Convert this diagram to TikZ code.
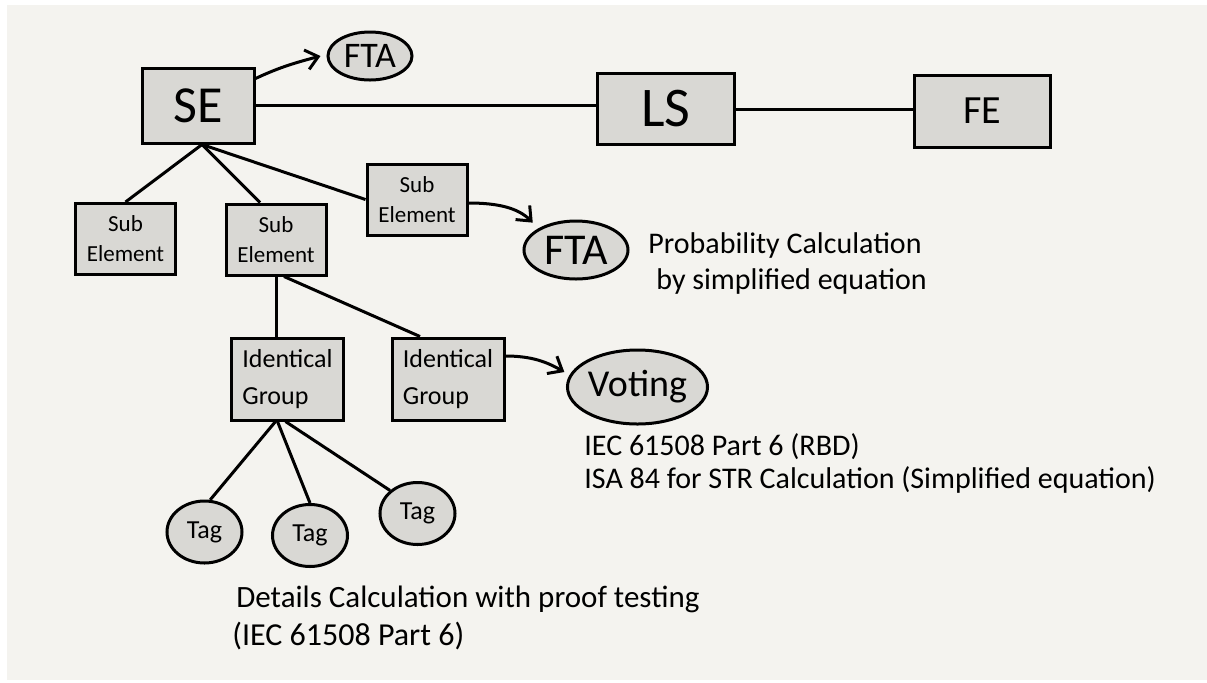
\documentclass[tikz,border=0pt]{standalone}
\usepackage{fontspec}
\setmainfont{Carlito}
\usetikzlibrary{shapes.geometric,arrows.meta}
\definecolor{paper}{HTML}{F4F3EF}
\definecolor{boxgray}{HTML}{D9D8D4}
\begin{document}
\begin{tikzpicture}[x=0.5pt, y=-0.5pt, >={Straight Barb[length=6pt,width=10pt]},
  box/.style={draw, line width=1.5pt, fill=boxgray, inner sep=0pt},
  bubble/.style={ellipse, draw, line width=1.5pt, fill=boxgray, inner sep=0pt},
  sub/.style={box, minimum width=50pt, minimum height=35.5pt, align=center, font=\fontsize{11.5}{15}\selectfont},
  group/.style={box, minimum width=56pt, minimum height=41pt, align=left, font=\fontsize{13}{18.5}\selectfont},
  tag/.style={bubble, minimum width=37.5pt, minimum height=31pt, font=\fontsize{13}{15}\selectfont},
  link/.style={line width=1.5pt},
  flow/.style={line width=1.5pt, ->},
  note/.style={anchor=base west, inner sep=0pt, font=\fontsize{15}{18}\selectfont}]
  \fill[white] (0,0) rectangle (1207,682);
  \fill[paper] (7,5) rectangle (1207,680);
  % top row
  \node[box, minimum width=56pt, minimum height=37.5pt, font=\fontsize{26}{30}\selectfont] (se) at (198,105.5) {SE};
  \node[bubble, minimum width=42pt, minimum height=24pt, font=\fontsize{18}{22}\selectfont] (fta) at (370,56) {FTA};
  \node[box, minimum width=68.5pt, minimum height=35.5pt, font=\fontsize{28}{32}\selectfont] (ls) at (666,109) {LS};
  \node[box, minimum width=68pt, minimum height=36pt, font=\fontsize{20}{24}\selectfont] (fe) at (982,111) {FE};
  % sub elements
  \node[sub] (sub1) at (125.5,239) {Sub\\Element};
  \node[sub] (sub2) at (276,239.5) {Sub\\Element};
  \node[sub] (sub3) at (417,199.5) {Sub\\Element};
  \node[bubble, minimum width=52pt, minimum height=29pt, font=\fontsize{22}{26}\selectfont] (fta2) at (576,250) {FTA};
  \node[note] (prob1) at (648,253) {Probability Calculation};
  \node[note] (prob2) at (656,289) {by simplified equation};
  % identical groups
  \node[group] (grp1) at (287.5,379) {Identical\\Group};
  \node[group] (grp2) at (448,379) {Identical\\Group};
  \node[bubble, minimum width=66.5pt, minimum height=37pt, font=\fontsize{19}{22}\selectfont] (voting) at (637.5,387) {Voting};
  \node[note] (iec1) at (584,455) {IEC 61508 Part 6 (RBD)};
  \node[note] (isa) at (584,488) {ISA 84 for STR Calculation (Simplified equation)};
  % tags
  \node[tag] (tag1) at (204.5,532) {Tag};
  \node[tag] (tag2) at (310,535.5) {Tag};
  \node[tag] (tag3) at (417.5,513.5) {Tag};
  \node[note, font=\fontsize{15.5}{19}\selectfont] (detail) at (236,607) {Details Calculation with proof testing};
  \node[note, font=\fontsize{16}{19}\selectfont] (iec2) at (232,645) {(IEC 61508 Part 6)};
  % connectors
  \draw[link] (se.east) -- (se.east -| ls.west);
  \draw[link] (ls.east) -- (ls.east -| fe.west);
  \draw[flow] ([yshift=-6pt]se.north east) to[out=25, in=195] ([xshift=-3pt]fta.west);
  \draw[link] ([xshift=2pt]se.south) -- (sub1.north);
  \draw[link] ([xshift=2pt]se.south) -- ([xshift=-8pt]sub2.north);
  \draw[link] ([xshift=2pt]se.south) -- (sub3.west);
  \draw[flow, shorten >=4pt] ([yshift=-1.75pt]sub3.east) to[out=0, in=135] (fta2.150);
  \draw[link] (sub2.south) -- (sub2.south |- grp1.north);
  \draw[link] ([xshift=4pt]sub2.south) -- ([xshift=-14pt]grp2.north);
  \draw[flow, shorten >=3pt] ([yshift=11.5pt]grp2.east) to[out=0, in=150] (voting.170);
  \draw[link] ([xshift=-6pt]grp1.south) -- (tag1.80);
  \draw[link] ([xshift=-5pt]grp1.south) -- (tag2.north);
  \draw[link] ([xshift=-1pt]grp1.south) -- (tag3.140);
\end{tikzpicture}
\end{document}
